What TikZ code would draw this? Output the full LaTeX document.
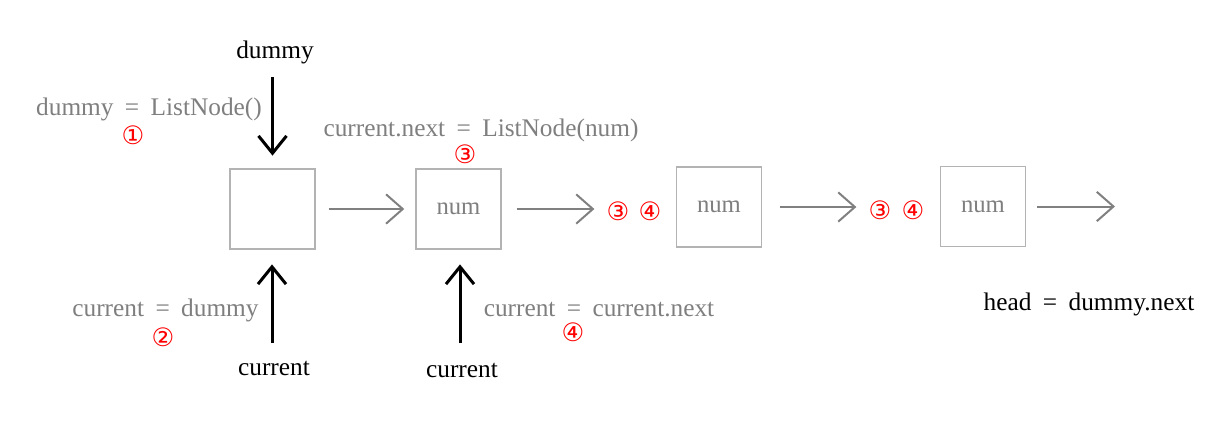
\documentclass[tikz,border=0pt]{standalone}
\usepackage{fontspec}
\setmainfont{Liberation Serif}
\newfontfamily\symfont{DejaVu Sans}
\usetikzlibrary{arrows.meta}
\definecolor{txtgray}{HTML}{7F7F7F}
\definecolor{boxgray}{HTML}{B3B3B3}
\definecolor{arrgray}{HTML}{808080}
\newcommand{\eqsign}{\hspace{0.45em}=\hspace{0.45em}}
\tikzset{
  listbox/.style={draw=boxgray,line width=1.1pt,minimum width=63.75pt,minimum height=60pt,inner sep=0pt,text=txtgray,font=\fontsize{18.5}{20}\selectfont},
  graylbl/.style={text=txtgray,font=\fontsize{19}{21}\selectfont,inner sep=0pt},
  blacklbl/.style={text=black,font=\fontsize{19}{21}\selectfont,inner sep=0pt},
  stepnum/.style={text=red,font=\symfont\fontsize{19}{20}\selectfont,inner sep=0pt},
  grayarrow/.style={draw=arrgray,line width=1.5pt,-{Straight Barb[length=12.5pt,width=22pt,line width=1.5pt]}},
  blackarrow/.style={draw=black,line width=2.25pt,-{Straight Barb[length=13pt,width=21pt,line width=2.25pt]}}
}
\begin{document}
\begin{tikzpicture}[x=0.75pt,y=-0.75pt]
\useasboundingbox (0,0) rectangle (1222,440);
% boxes
\node[listbox] (b1) at (272.5,209) {};
\node[listbox] (b2) at (458.5,209) {num};
\node[listbox] (b3) at (719,207) {num};
\node[listbox] (b4) at (983,206.5) {num};
% step markers
\node[stepnum] (s3a) at (618,211) {③};
\node[stepnum] (s4a) at (650,211) {④};
\node[stepnum] (s3b) at (880,210) {③};
\node[stepnum] (s4b) at (913,210) {④};
% horizontal arrows
\coordinate (e4) at (1115,206.5);
\draw[grayarrow] ([xshift=9.75pt]b1.east) -- ([xshift=-8.25pt]b2.west);
\draw[grayarrow] ([xshift=11.25pt]b2.east) -- ([xshift=-9pt]s3a.west |- b2.east);
\draw[grayarrow] ([xshift=13.5pt]b3.east) -- ([xshift=-9pt]s3b.west |- b3.east);
\draw[grayarrow] ([xshift=8pt]b4.east) -- (e4);
% labels top
\node[blacklbl] (dummy) at (275,52) {dummy};
\node[graylbl] (l1) at (149,109) {dummy\eqsign ListNode()};
\node[stepnum] (s1) at (133,135) {①};
\node[graylbl] (l3) at (481,130) {current.next\eqsign ListNode(num)};
\node[stepnum] (s3) at (465,154) {③};
\coordinate (d1s) at (272.5,77);
\draw[blackarrow] (d1s) -- ([yshift=9.5pt]b1.north);
% labels bottom
\node[blacklbl] (cur1) at (274,368) {current};
\node[blacklbl] (cur2) at (462,370) {current};
\node[graylbl] (l2) at (165.5,310) {current\eqsign dummy};
\node[stepnum] (s2) at (163,337) {②};
\node[graylbl] (l4) at (599,310) {current\eqsign current.next};
\node[stepnum] (s4) at (573,332) {④};
\node[blacklbl] (head) at (1089,304) {head\eqsign dummy.next};
\coordinate (c1s) at (272,343);
\coordinate (c2s) at (460,343);
\draw[blackarrow] (c1s) -- ([yshift=-11pt]b1.south -| c1s);
\draw[blackarrow] (c2s) -- ([yshift=-11pt]b2.south -| c2s);
\end{tikzpicture}
\end{document}
